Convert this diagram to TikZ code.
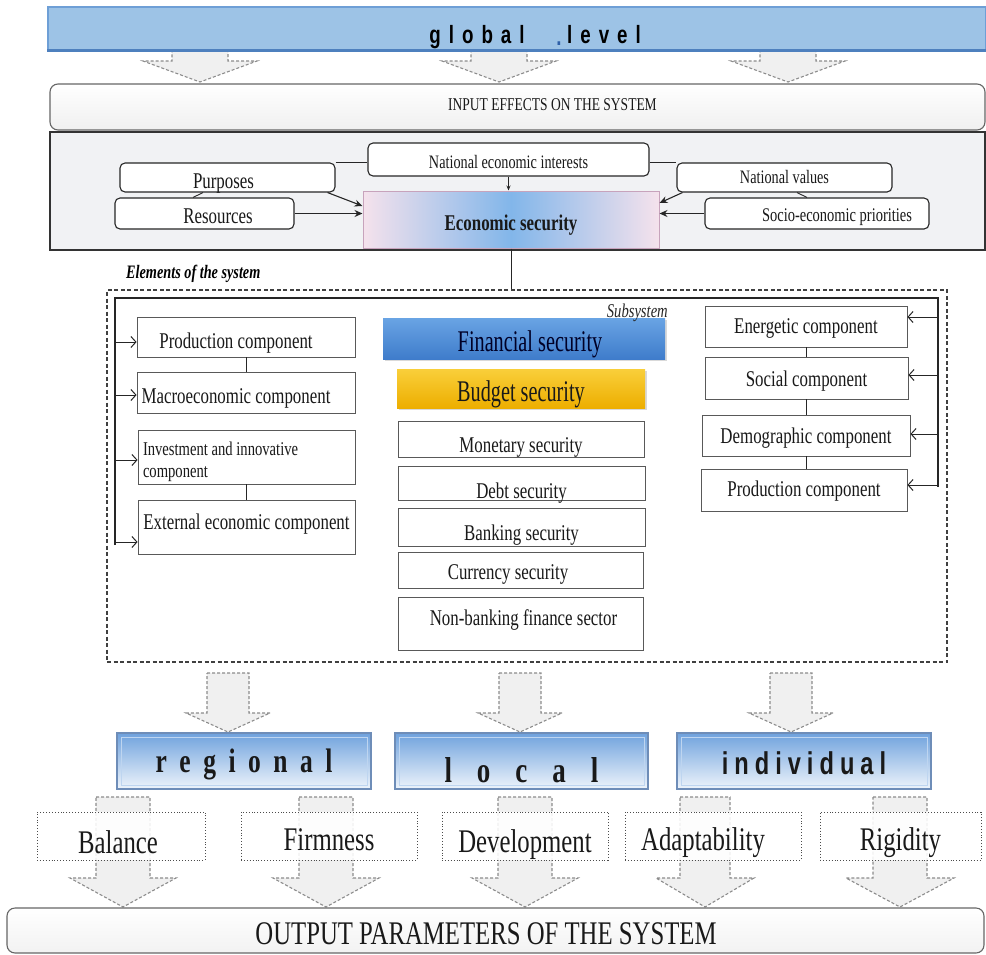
\documentclass[tikz,border=0pt]{standalone}
\usepackage{fontspec}
\setmainfont{Liberation Serif}[FakeStretch=0.75]
\newfontfamily\narrowserif{Liberation Serif}[FakeStretch=0.675]
\newfontfamily\sansfam{Liberation Sans}[FakeStretch=0.75]
\usetikzlibrary{arrows.meta,shadows}
\definecolor{barblue}{HTML}{9DC3E6}
\definecolor{baredge}{HTML}{6E9FD6}
\definecolor{barbot}{HTML}{4E80BE}
\definecolor{lvtop}{HTML}{6FA2DD}
\definecolor{lvbot}{HTML}{EEF4FB}
\definecolor{lvedge}{HTML}{6E8DB8}
\definecolor{finblue}{HTML}{3F7CCB}
\definecolor{fintop}{HTML}{69A4E4}
\definecolor{budtop}{HTML}{F9CF3A}
\definecolor{budbot}{HTML}{EDAE00}
\definecolor{econpink}{HTML}{F5E2EC}
\definecolor{econblue}{HTML}{82B6EA}
\definecolor{econedge}{HTML}{C7A3BC}
\definecolor{sysgrey}{HTML}{F1F2F4}
\definecolor{dotblue}{HTML}{2E5FA8}
\newcommand\myfs[1]{\fontsize{#1}{#1}\selectfont}
\newcommand\tb[2]{\raisebox{-#1pt}[0pt][0pt]{#2}}
\newcommand\lsp{\hspace{8pt}}
\newcommand\rsp{\hspace{12.5pt}}
\newcommand\csp{\hspace{25pt}}
\newcommand\isp{\hspace{6pt}}
\newcommand\fatarrow[6]{%
  \draw[fatarr] ({#1-#5},#2) -- ({#1+#5},#2) -- ({#1+#5},#3) -- ({#1+#6},#3)
    -- (#1,#4) -- ({#1-#6},#3) -- ({#1-#5},#3) -- cycle;}
\begin{document}
\begin{tikzpicture}[x=1pt,y=-1pt,
  box/.style={draw=black!65, line width=0.8pt, fill=white, inner sep=0pt, text=black!90, font=\myfs{22.5}},
  rbox/.style={box, rounded corners=5pt, draw=black!85, line width=1.1pt},
  lvbox/.style={draw=lvedge, line width=2pt, top color=lvtop, bottom color=lvbot, inner sep=0pt,
    path picture={\draw[white!55!lvtop, line width=1pt]
      ([shift={(4pt,-4pt)}]path picture bounding box.north west) rectangle
      ([shift={(-4pt,4pt)}]path picture bounding box.south east);}},
  dotbox/.style={draw=black!70, dotted, line width=0.9pt, fill=white, fill opacity=0.88, text opacity=1,
    inner sep=0pt, font=\myfs{33}, text=black!90},
  conn/.style={draw=black!85, line width=0.9pt},
  earr/.style={conn, line width=1.1pt, -{Stealth[length=8pt,width=7pt]}},
  oarr/.style={conn, line width=1pt, -{Straight Barb[length=5pt,width=11pt]}},
  fatarr/.style={draw=black!45, dash pattern=on 3pt off 2pt, line width=1.1pt, fill=black!6}
]
\useasboundingbox (0,0) rectangle (986,954);

% ---------- top arrows and global bar ----------
\fatarrow{200}{45}{61}{82}{28}{57}
\fatarrow{499}{45}{61}{82}{28}{57}
\fatarrow{788}{45}{61}{82}{28}{57}
\node[fill=barblue, draw=baredge, line width=1.2pt, inner sep=0pt,
      minimum width=938pt, minimum height=43pt] (glob) at (517,28.5) {};
\draw[barbot, line width=2.5pt] (glob.south west) -- (glob.south east);
\node[font=\sansfam\bfseries\myfs{25}, inner sep=0pt, anchor=base] (glw1) at (477,43) {g\lsp l\lsp o\lsp b\lsp a\lsp l};
\node[font=\sansfam\bfseries\myfs{25}, inner sep=0pt, anchor=base, text=dotblue] (gldot) at (559,45) {.};
\node[font=\sansfam\bfseries\myfs{25}, inner sep=0pt, anchor=base] (glw2) at (604,43) {l\lsp e\lsp v\lsp e\lsp l};

% ---------- input box ----------
\node[rbox, rounded corners=8pt, draw=black!60, top color=white, bottom color=black!6,
      minimum width=935pt, minimum height=46pt, font=\myfs{18}] (inp) at (517.5,107)
      {\hspace{70pt}\tb{3}{INPUT EFFECTS ON THE SYSTEM}};

% ---------- system (grey) box ----------
\node[draw=black!80, line width=1.5pt, fill=sysgrey, inner sep=0pt,
      minimum width=935pt, minimum height=118pt] (sys) at (517.5,191) {};
\node[rbox, minimum width=281pt, minimum height=33pt, font=\myfs{19}] (natint) at (508.5,159.5) {\tb{9}{National economic interests}};
\node[rbox, minimum width=215pt, minimum height=29pt] (purp) at (227.5,177.5) {\hspace{-8pt}\tb{10.5}{Purposes}};
\node[rbox, minimum width=215pt, minimum height=29pt, font=\myfs{19}] (natval) at (784.5,177.5) {\tb{6}{National values}};
\node[rbox, minimum width=179pt, minimum height=31pt] (res) at (204.5,213.5) {\hspace{27pt}\tb{10}{Resources}};
\node[rbox, minimum width=224pt, minimum height=31pt, font=\myfs{19.3}] (socio) at (817,213.5) {\hspace{40pt}\tb{7.5}{Socio-economic priorities}};
\node[draw=econedge, line width=1pt, inner sep=0pt, left color=econpink, right color=econpink, middle color=econblue,
      minimum width=296pt, minimum height=57pt, font=\bfseries\myfs{22.5}, text=black!90] (econ) at (511,219.5)
      {\tb{10.5}{Economic security}};

\draw[conn] (purp.north east) -- (purp.north east -| natint.west);
\draw[conn] (natint.east |- natval.north) -- (natval.north west);
\draw[conn] ([xshift=-24.5pt]purp.south) -- ([xshift=-11.5pt]res.north);
\draw[conn] ([xshift=12.5pt]natval.south) -- ([xshift=-10pt]socio.north);
\draw[conn, -{Stealth[length=5pt,width=4pt]}] (natint.south) -- (natint.south |- econ.north);
\draw[earr] ([xshift=-8pt]purp.south east) -- ([yshift=13.5pt]econ.west);
\draw[earr] (res.east) -- (res.east -| econ.west);
\draw[earr] ([xshift=6pt]natval.south west) -- ([yshift=16.5pt]econ.east);
\draw[earr] (socio.west) -- (socio.west -| econ.east);

% ---------- elements of the system ----------
\node[anchor=base west, inner sep=0pt, font=\bfseries\itshape\myfs{19}] (elem) at (126,278) {Elements of the system};
\node[draw=black!75, dash pattern=on 4pt off 2.5pt, line width=1.1pt, inner sep=0pt,
      minimum width=840pt, minimum height=372pt] (dbox) at (527,476) {};
\draw[conn] (econ.south) -- (econ.south |- dbox.north);

\coordinate (lb) at (115,545);
\coordinate (lt) at (115,298);
\coordinate (rt) at (938,298);
\coordinate (rb) at (938,487);
\draw[conn, line width=1.1pt] (lb) -- (lt) -- (rt) -- (rb);

% left column
\node[box, minimum width=218pt, minimum height=40pt] (prodL) at (246,337) {\hspace{-20pt}\tb{11}{Production component}};
\node[box, minimum width=218pt, minimum height=41pt] (macro) at (246,392.5) {\hspace{-20pt}\tb{11}{Macroeconomic component}};
\node[box, minimum width=217pt, minimum height=54pt, font={\fontsize{19.5}{22}\selectfont}] (invest) at (246.5,457)
  {\makebox[207pt][l]{\tb{20}{\begin{tabular}[b]{@{}l@{}}Investment and innovative\\component\end{tabular}}}};
\node[box, minimum width=217pt, minimum height=54pt] (ext) at (246.5,527) {\tb{2}{External economic component}};
\draw[conn] (prodL.south) -- (macro.north);
\draw[conn] (invest.south) -- (ext.north);
\coordinate (pa) at (115,342);
\coordinate (ma) at (115,395);
\coordinate (ia) at (115,460);
\coordinate (xa) at (115,542);
\draw[oarr] (pa) -- (pa -| prodL.west);
\draw[oarr] (ma) -- (ma -| macro.west);
\draw[oarr] (ia) -- (ia -| invest.west);
\draw[oarr] (xa) -- (xa -| ext.west);

% centre column
\node[inner sep=0pt, top color=fintop, bottom color=finblue, drop shadow={opacity=0.3,shadow xshift=1.5pt,shadow yshift=-2pt},
      minimum width=282pt, minimum height=41pt, font=\narrowserif\myfs{30}, text=black!85!blue] (fin) at (524,338.5)
      {\hspace{12pt}\tb{12.5}{Financial security}};
\node[anchor=base east, inner sep=0pt, font=\itshape\myfs{19.5}, text=black!85] (subs) at (668,317) {Subsystem};
\node[inner sep=0pt, top color=budtop, bottom color=budbot, drop shadow={opacity=0.3,shadow xshift=1.5pt,shadow yshift=-2pt},
      minimum width=248pt, minimum height=39pt, font=\narrowserif\myfs{30}, text=black!90] (bud) at (521,388.5)
      {\tb{12.5}{Budget security}};
\node[box, minimum width=246pt, minimum height=36pt] (mon) at (521,439) {\tb{13}{Monetary security}};
\node[box, minimum width=247pt, minimum height=34pt] (debt) at (521.5,483) {\tb{15}{Debt security}};
\node[box, minimum width=247pt, minimum height=38pt] (bank) at (521.5,527) {\tb{13}{Banking security}};
\node[box, minimum width=245pt, minimum height=36pt] (cur) at (520.5,570) {\hspace{-25pt}\tb{9}{Currency security}};
\node[box, minimum width=245pt, minimum height=53pt] (nonb) at (520.5,623.5) {\hspace{6pt}\tb{1.5}{Non-banking finance sector}};

% right column
\node[box, minimum width=202pt, minimum height=41pt] (ener) at (806,326.5) {\tb{6.5}{Energetic component}};
\node[box, minimum width=203pt, minimum height=42pt] (soc) at (806.5,378) {\tb{8}{Social component}};
\node[box, minimum width=208pt, minimum height=41pt] (demo) at (806,435.5) {\tb{7.5}{Demographic component}};
\node[box, minimum width=206pt, minimum height=42pt] (prodR) at (804,490) {\tb{6}{Production component}};
\draw[conn] (ener.south) -- (ener.south |- soc.north);
\draw[conn] (soc.south) -- (soc.south |- demo.north);
\draw[conn] (demo.south) -- (demo.south |- prodR.north);
\coordinate (ea) at (938,317);
\coordinate (sa) at (938,375);
\coordinate (da) at (938,434);
\coordinate (ra) at (938,485);
\draw[oarr] (ea) -- (ea -| ener.east);
\draw[oarr] (sa) -- (sa -| soc.east);
\draw[oarr] (da) -- (da -| demo.east);
\draw[oarr] (ra) -- (ra -| prodR.east);

% ---------- level arrows and boxes ----------
\fatarrow{228}{673}{713}{732}{21}{42}
\fatarrow{520}{673}{713}{732}{21}{42}
\fatarrow{791}{673}{713}{732}{21}{42}
\node[lvbox, minimum width=254pt, minimum height=56pt, font=\bfseries\myfs{34}, text=black!90] (reg) at (244,761)
  {\tb{11}{r\rsp e\rsp g\rsp i\rsp o\rsp n\rsp a\rsp l}};
\node[lvbox, minimum width=253pt, minimum height=56pt, font=\bfseries\myfs{36}, text=black!90] (loc) at (521.5,761)
  {\tb{21}{l\csp o\csp c\csp a\csp l}};
\node[lvbox, minimum width=254pt, minimum height=56pt, font=\sansfam\bfseries\myfs{31.5}, text=black!90] (ind) at (804,761)
  {\tb{13}{i\isp n\isp d\isp i\isp v\isp i\isp d\isp u\isp a\isp l}};

% ---------- output parameter arrows and boxes ----------
\fatarrow{123}{797}{878}{907}{27}{53}
\fatarrow{326}{797}{878}{907}{27}{53}
\fatarrow{525}{797}{878}{907}{27}{53}
\fatarrow{705}{797}{878}{907}{25}{49}
\fatarrow{900}{797}{878}{907}{27}{54}
\node[dotbox, minimum width=168pt, minimum height=48pt] (bal) at (121,836) {\hspace{-6pt}\tb{17}{Balance}};
\node[dotbox, minimum width=176pt, minimum height=48pt] (firm) at (329,836) {\tb{14}{Firmness}};
\node[dotbox, minimum width=166pt, minimum height=48pt] (dev) at (525,836) {\tb{16}{Development}};
\node[dotbox, minimum width=176pt, minimum height=48pt] (adapt) at (713,836) {\hspace{-20pt}\tb{14}{Adaptability}};
\node[dotbox, minimum width=161pt, minimum height=48pt] (rig) at (900.5,836) {\tb{14}{Rigidity}};

\node[rbox, rounded corners=8pt, draw=black!60, top color=white, bottom color=black!5,
      minimum width=977pt, minimum height=45pt, font=\myfs{33}] (outp) at (495.5,930.5)
      {\hspace{-19pt}\tb{14}{OUTPUT PARAMETERS OF THE SYSTEM}};
\end{tikzpicture}
\end{document}
